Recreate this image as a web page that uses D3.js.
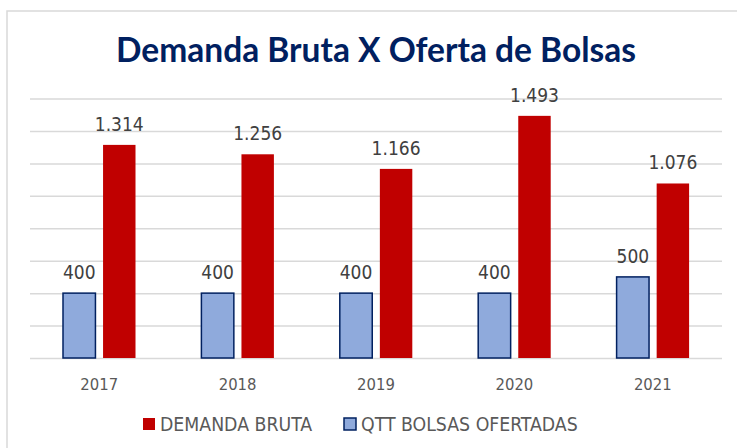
<!DOCTYPE html>
<html>
<head>
<meta charset="utf-8">
<script src="https://cdn.jsdelivr.net/npm/d3@7"></script>
<style>
  body { margin: 0; background: #fff; }
  svg { display: block; }
</style>
</head>
<body>
<svg id="chart" width="737" height="448"></svg>
<script>
const years = ['2017', '2018', '2019', '2020', '2021'];
const demandaBruta = [1314, 1256, 1166, 1493, 1076];
const bolsasOfertadas = [400, 400, 400, 400, 500];
const yTicks = [0, 200, 400, 600, 800, 1000, 1200, 1400, 1600];
const seriesNames = ['QTT BOLSAS OFERTADAS', 'DEMANDA BRUTA'];

const labelFont = "'DejaVu Sans Condensed', 'DejaVu Sans', sans-serif";
const fmt = d3.formatLocale({ decimal: ',', thousands: '.', grouping: [3], currency: ['', ''] }).format(',d');

const svg = d3.select('svg#chart');
const margin = { top: 98.5, bottom: 358, left: 30, right: 722 };

// chart frame
svg.append('rect')
    .attr('x', 7).attr('y', 11)
    .attr('width', 760).attr('height', 460)
    .attr('fill', 'none')
    .attr('stroke', '#d9d9d9')
    .attr('stroke-width', 1.5);

svg.append('text')
    .attr('x', 376)
    .attr('y', 62)
    .attr('text-anchor', 'middle')
    .style('font-family', 'Lato, sans-serif')
    .style('font-weight', 'bold')
    .style('font-size', '33.5px')
    .style('fill', '#002060')
    .text('Demanda Bruta X Oferta de Bolsas');

const xScale = d3.scaleBand()
    .domain(years)
    .range([margin.left, margin.right]);

const xSub = d3.scaleBand()
    .domain(seriesNames)
    .range([33, 105.5])
    .paddingInner(0.19);

const yScale = d3.scaleLinear()
    .domain([0, 1600])
    .range([margin.bottom, margin.top]);

const colorScale = d3.scaleOrdinal()
    .domain(seriesNames)
    .range(['#8faadc', '#c00000']);

// gridlines
const yAxis = svg.append('g')
    .attr('class', 'y-axis')
    .attr('transform', `translate(${margin.left},0)`)
    .call(d3.axisLeft(yScale).tickValues(yTicks).tickSize(-(margin.right - margin.left)).tickFormat(''))
    .call(g => g.select('.domain').remove());
yAxis.selectAll('line')
    .attr('stroke', '#d9d9d9')
    .attr('stroke-width', 1.5);

const xAxis = svg.append('g')
    .attr('class', 'x-axis')
    .attr('transform', `translate(0,${margin.bottom})`)
    .call(d3.axisBottom(xScale).tickSize(0).tickPadding(20))
    .call(g => g.select('.domain').remove());
xAxis.selectAll('text')
    .style('font-family', labelFont)
    .style('font-size', '16.5px')
    .style('fill', '#595959');

const rows = years.map((y, i) => ({
    year: y,
    values: [
        { series: seriesNames[0], value: bolsasOfertadas[i] },
        { series: seriesNames[1], value: demandaBruta[i] }
    ]
}));

const groups = svg.append('g')
    .selectAll('g')
    .data(rows)
    .enter()
    .append('g')
    .attr('transform', d => `translate(${xScale(d.year)},0)`);

groups.selectAll('rect')
    .data(d => d.values)
    .enter()
    .append('rect')
    .attr('x', d => xSub(d.series))
    .attr('y', d => yScale(d.value))
    .attr('width', xSub.bandwidth())
    .attr('height', d => yScale(0) - yScale(d.value))
    .attr('fill', d => colorScale(d.series))
    .attr('stroke', d => d.series === seriesNames[0] ? '#002060' : 'none')
    .attr('stroke-width', 1.5);

groups.selectAll('text')
    .data(d => d.values)
    .enter()
    .append('text')
    .attr('x', d => xSub(d.series) + xSub.bandwidth() / 2)
    .attr('y', d => yScale(d.value) - 14)
    .attr('text-anchor', 'middle')
    .style('font-family', labelFont)
    .style('font-size', '19px')
    .style('fill', '#404040')
    .text(d => fmt(d.value));

// legend
const legendItems = [
    { name: seriesNames[1], x: 143 },
    { name: seriesNames[0], x: 344 }
];
const legend = svg.append('g').attr('class', 'legend');
const item = legend.selectAll('g')
    .data(legendItems)
    .enter()
    .append('g')
    .attr('transform', d => `translate(${d.x},418)`);
item.append('rect')
    .attr('width', 12).attr('height', 12)
    .attr('fill', d => colorScale(d.name))
    .attr('stroke', d => d.name === seriesNames[0] ? '#002060' : 'none')
    .attr('stroke-width', 1.5);
item.append('text')
    .attr('x', 17)
    .attr('y', 13)
    .style('font-family', labelFont)
    .style('font-size', '19.3px')
    .style('fill', '#595959')
    .text(d => d.name);
</script>
</body>
</html>
